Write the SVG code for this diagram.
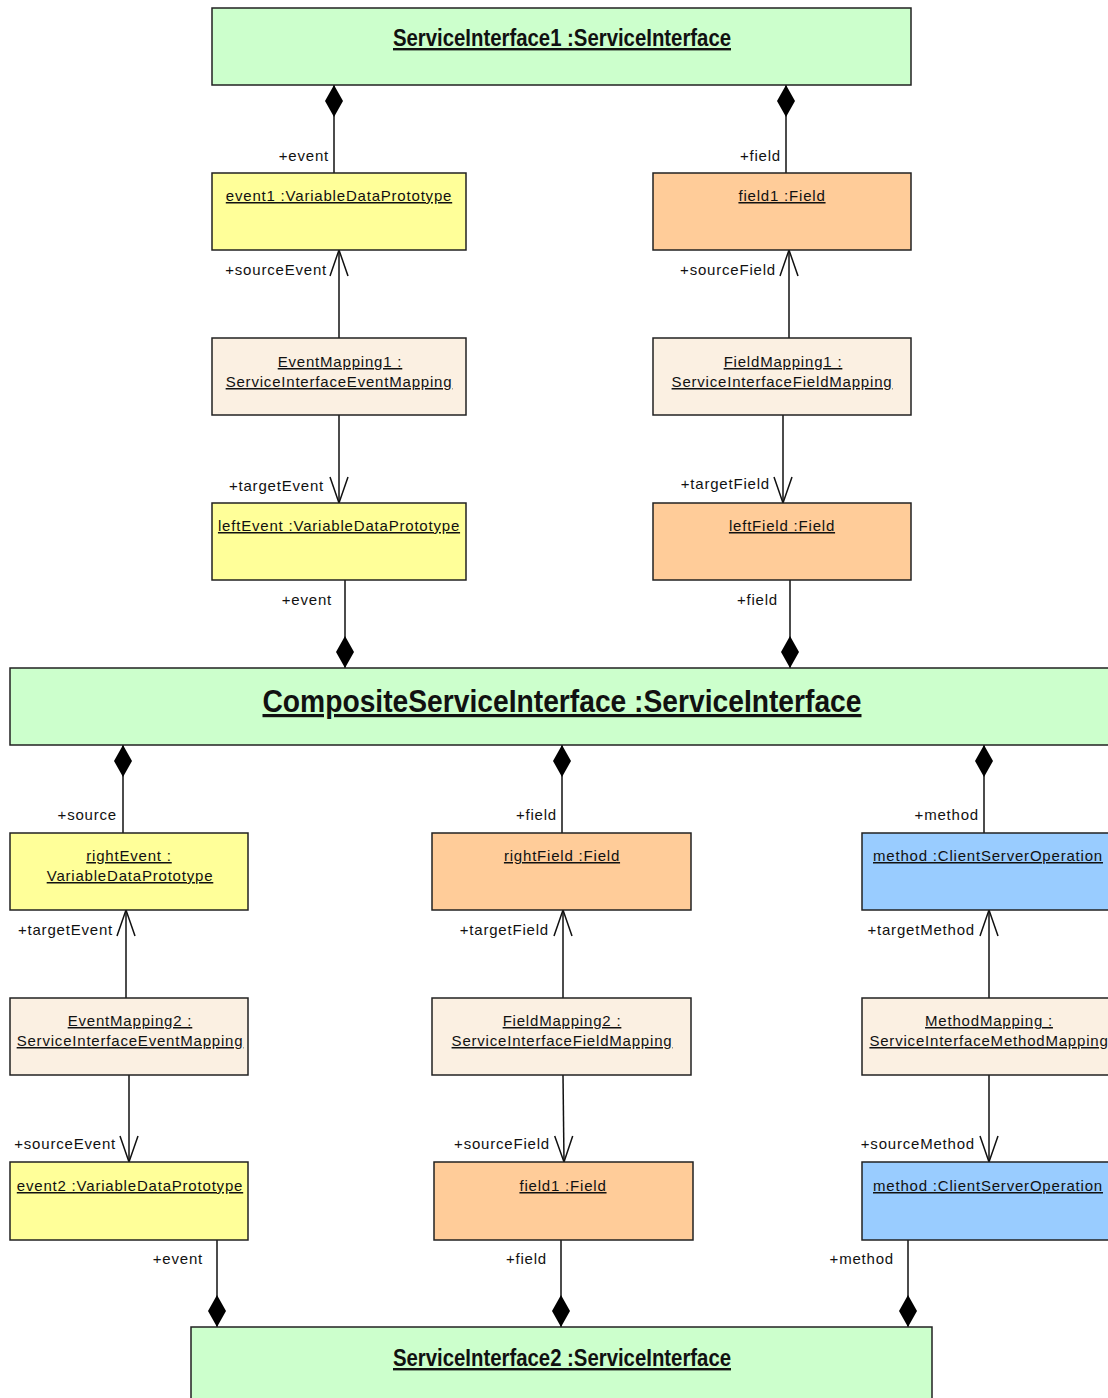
<svg xmlns="http://www.w3.org/2000/svg" width="1108" height="1398" viewBox="0 0 1108 1398">
  <style>
    .box { stroke: #222; stroke-width: 1.5; }
    .si { fill: #CCFFCC; }
    .vdp { fill: #FFFF99; }
    .fld { fill: #FFCC99; }
    .op { fill: #99CCFF; }
    .map { fill: #FBF0E2; }
    .name { font-family: "Liberation Sans", Arial, sans-serif; font-size: 15px; letter-spacing: 0.8px; fill: #111; text-anchor: middle; text-decoration: underline; }
    .title { font-family: "Liberation Sans Narrow", "Liberation Sans", Arial, sans-serif; font-weight: bold; fill: #111; text-anchor: middle; text-decoration: underline; }
    .role { font-family: "Liberation Sans", Arial, sans-serif; font-size: 15px; letter-spacing: 0.8px; fill: #111; text-anchor: end; }
    .link { fill: none; stroke: #111; stroke-width: 1.5; }
  </style>
  <defs>
    <marker id="diamond" markerUnits="userSpaceOnUse" markerWidth="40" markerHeight="24" refX="0" refY="0" orient="auto" viewBox="-2 -12 40 24" overflow="visible">
      <path d="M0,0 L16,-9 L32,0 L16,9 Z" fill="#000"/>
    </marker>
    <marker id="open" markerUnits="userSpaceOnUse" markerWidth="30" markerHeight="24" refX="0" refY="0" orient="auto" viewBox="-28 -12 30 24" overflow="visible">
      <path d="M-26,-9 L0,0 L-26,9" fill="none" stroke="#111" stroke-width="1.5"/>
    </marker>
  </defs>

  <rect width="1108" height="1398" fill="#fff"/>

  <!-- connectors and role names -->
  <g id="connectors">
    <path class="link" d="M334,85 V173" marker-start="url(#diamond)"/>
    <text class="role" x="329" y="161">+event</text>
    <path class="link" d="M786,85 V173" marker-start="url(#diamond)"/>
    <text class="role" x="781" y="161">+field</text>

    <path class="link" d="M339,338 V250" marker-end="url(#open)"/>
    <text class="role" x="327" y="275">+sourceEvent</text>
    <path class="link" d="M789,338 V250" marker-end="url(#open)"/>
    <text class="role" x="776" y="275">+sourceField</text>

    <path class="link" d="M339,415 V503" marker-end="url(#open)"/>
    <text class="role" x="324" y="491">+targetEvent</text>
    <path class="link" d="M783,415 V503" marker-end="url(#open)"/>
    <text class="role" x="770" y="489">+targetField</text>

    <path class="link" d="M345,668 V580" marker-start="url(#diamond)"/>
    <text class="role" x="332" y="605">+event</text>
    <path class="link" d="M790,668 V580" marker-start="url(#diamond)"/>
    <text class="role" x="778" y="605">+field</text>

    <path class="link" d="M123,745 V833" marker-start="url(#diamond)"/>
    <text class="role" x="117" y="820">+source</text>
    <path class="link" d="M562,745 V833" marker-start="url(#diamond)"/>
    <text class="role" x="557" y="820">+field</text>
    <path class="link" d="M984,745 V833" marker-start="url(#diamond)"/>
    <text class="role" x="979" y="820">+method</text>

    <path class="link" d="M126,998 V910" marker-end="url(#open)"/>
    <text class="role" x="113" y="935">+targetEvent</text>
    <path class="link" d="M563,998 V910" marker-end="url(#open)"/>
    <text class="role" x="549" y="935">+targetField</text>
    <path class="link" d="M989,998 V910" marker-end="url(#open)"/>
    <text class="role" x="975" y="935">+targetMethod</text>

    <path class="link" d="M129,1075 V1162" marker-end="url(#open)"/>
    <text class="role" x="116" y="1149">+sourceEvent</text>
    <path class="link" d="M563,1075 L564,1162" marker-end="url(#open)"/>
    <text class="role" x="550" y="1149">+sourceField</text>
    <path class="link" d="M989,1075 V1162" marker-end="url(#open)"/>
    <text class="role" x="975" y="1149">+sourceMethod</text>

    <path class="link" d="M217,1327 V1240" marker-start="url(#diamond)"/>
    <text class="role" x="203" y="1264">+event</text>
    <path class="link" d="M561,1327 V1240" marker-start="url(#diamond)"/>
    <text class="role" x="547" y="1264">+field</text>
    <path class="link" d="M908,1327 V1240" marker-start="url(#diamond)"/>
    <text class="role" x="894" y="1264">+method</text>
  </g>

  <!-- service interfaces -->
  <g id="ServiceInterface1">
    <rect class="box si" x="212" y="8" width="699" height="77"/>
    <text class="title" x="562" y="46" font-size="24" textLength="338" lengthAdjust="spacingAndGlyphs">ServiceInterface1 :ServiceInterface</text>
  </g>
  <g id="CompositeServiceInterface">
    <rect class="box si" x="10" y="668" width="1104" height="77"/>
    <text class="title" x="562" y="712" font-size="32" textLength="599" lengthAdjust="spacingAndGlyphs">CompositeServiceInterface :ServiceInterface</text>
  </g>
  <g id="ServiceInterface2">
    <rect class="box si" x="191" y="1327" width="741" height="80"/>
    <text class="title" x="562" y="1366" font-size="24" textLength="338" lengthAdjust="spacingAndGlyphs">ServiceInterface2 :ServiceInterface</text>
  </g>

  <!-- upper part -->
  <g id="event1">
    <rect class="box vdp" x="212" y="173" width="254" height="77"/>
    <text class="name" x="339" y="201">event1 :VariableDataPrototype</text>
  </g>
  <g id="field1-top">
    <rect class="box fld" x="653" y="173" width="258" height="77"/>
    <text class="name" x="782" y="201">field1 :Field</text>
  </g>
  <g id="EventMapping1">
    <rect class="box map" x="212" y="338" width="254" height="77"/>
    <text class="name" x="340" y="367">EventMapping1 :</text>
    <text class="name" x="339" y="387">ServiceInterfaceEventMapping</text>
  </g>
  <g id="FieldMapping1">
    <rect class="box map" x="653" y="338" width="258" height="77"/>
    <text class="name" x="783" y="367">FieldMapping1 :</text>
    <text class="name" x="782" y="387">ServiceInterfaceFieldMapping</text>
  </g>
  <g id="leftEvent">
    <rect class="box vdp" x="212" y="503" width="254" height="77"/>
    <text class="name" x="339" y="531">leftEvent :VariableDataPrototype</text>
  </g>
  <g id="leftField">
    <rect class="box fld" x="653" y="503" width="258" height="77"/>
    <text class="name" x="782" y="531">leftField :Field</text>
  </g>

  <!-- lower part -->
  <g id="rightEvent">
    <rect class="box vdp" x="10" y="833" width="238" height="77"/>
    <text class="name" x="129" y="861">rightEvent :</text>
    <text class="name" x="130" y="881">VariableDataPrototype</text>
  </g>
  <g id="rightField">
    <rect class="box fld" x="432" y="833" width="259" height="77"/>
    <text class="name" x="562" y="861">rightField :Field</text>
  </g>
  <g id="method-top">
    <rect class="box op" x="862" y="833" width="254" height="77"/>
    <text class="name" x="988" y="861">method :ClientServerOperation</text>
  </g>
  <g id="EventMapping2">
    <rect class="box map" x="10" y="998" width="238" height="77"/>
    <text class="name" x="130" y="1026">EventMapping2 :</text>
    <text class="name" x="130" y="1046">ServiceInterfaceEventMapping</text>
  </g>
  <g id="FieldMapping2">
    <rect class="box map" x="432" y="998" width="259" height="77"/>
    <text class="name" x="562" y="1026">FieldMapping2 :</text>
    <text class="name" x="562" y="1046">ServiceInterfaceFieldMapping</text>
  </g>
  <g id="MethodMapping">
    <rect class="box map" x="862" y="998" width="254" height="77"/>
    <text class="name" x="989" y="1026">MethodMapping :</text>
    <text class="name" x="989" y="1046">ServiceInterfaceMethodMapping</text>
  </g>
  <g id="event2">
    <rect class="box vdp" x="10" y="1162" width="238" height="78"/>
    <text class="name" x="130" y="1191">event2 :VariableDataPrototype</text>
  </g>
  <g id="field1-bottom">
    <rect class="box fld" x="434" y="1162" width="259" height="78"/>
    <text class="name" x="563" y="1191">field1 :Field</text>
  </g>
  <g id="method-bottom">
    <rect class="box op" x="862" y="1162" width="254" height="78"/>
    <text class="name" x="988" y="1191">method :ClientServerOperation</text>
  </g>
</svg>
